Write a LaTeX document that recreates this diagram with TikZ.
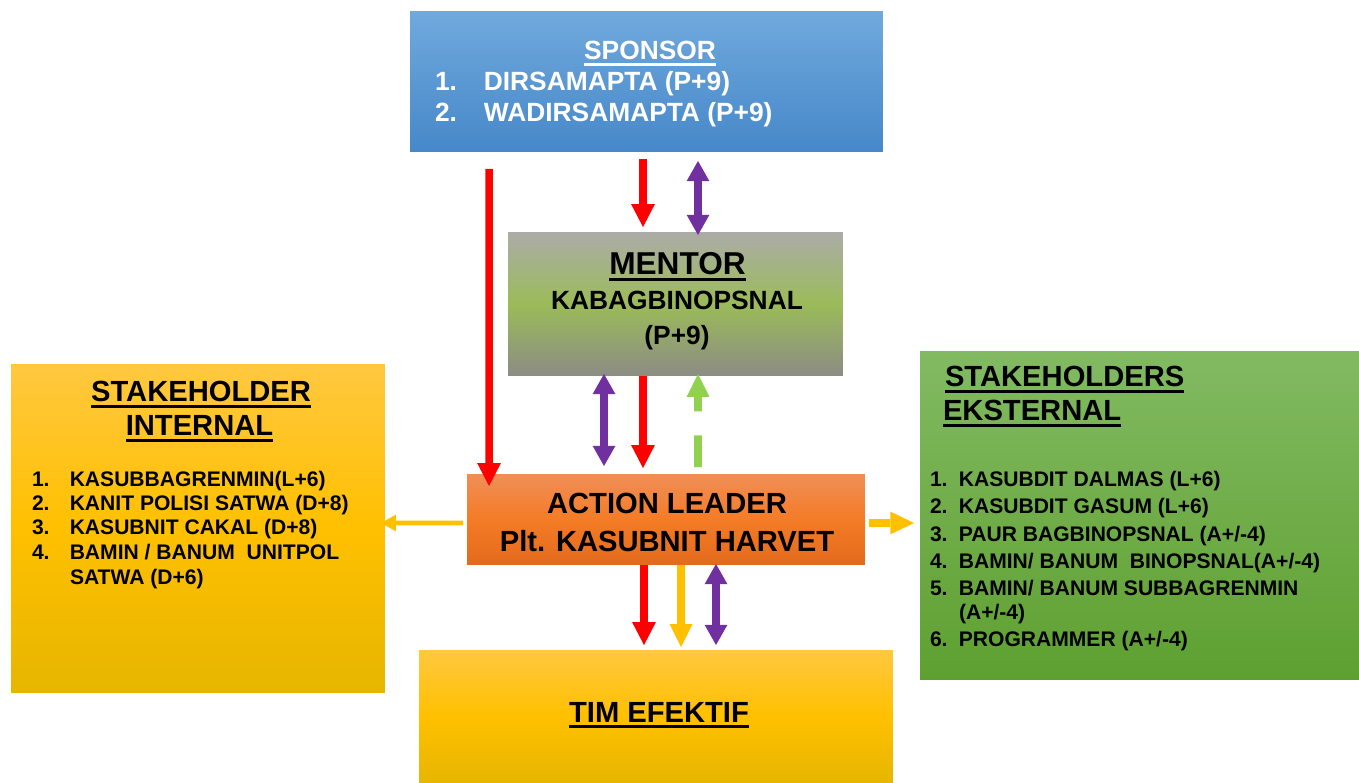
\documentclass[tikz,border=0pt]{standalone}
\usepackage{fontspec}
\setmainfont{Liberation Sans}
\usetikzlibrary{arrows.meta,calc}

\definecolor{spTop}{RGB}{112,169,221}
\definecolor{spBot}{RGB}{70,136,201}
\definecolor{mnTop}{RGB}{172,172,168}
\definecolor{mnMid}{RGB}{155,187,89}
\definecolor{mnBot}{RGB}{140,140,132}
\definecolor{ldTop}{RGB}{240,142,88}
\definecolor{ldMid}{RGB}{244,124,38}
\definecolor{ldBot}{RGB}{226,106,28}
\definecolor{yeTop}{RGB}{255,200,64}
\definecolor{yeMid}{RGB}{255,192,0}
\definecolor{yeBot}{RGB}{230,182,0}
\definecolor{grTop}{RGB}{130,186,98}
\definecolor{grBot}{RGB}{94,160,48}
\definecolor{arRed}{RGB}{255,0,0}
\definecolor{arPurple}{RGB}{112,48,160}
\definecolor{arYellow}{RGB}{255,192,0}
\definecolor{arGreen}{RGB}{146,208,80}

\newcommand{\undl}[1]{\setbox0=\hbox{#1}\rlap{\rule[-3.2pt]{\wd0}{1.5pt}}\box0}
\newcommand{\lnum}[2]{\makebox[#1][l]{#2}}

\begin{document}
\begin{tikzpicture}[
  x=0.02cm, y=-0.02cm,
  box/.style={inner sep=0pt, outer sep=0pt},
  txt/.style={inner sep=0pt, outer sep=0pt},
  bigttl/.style={txt, font=\bfseries\fontsize{16.6pt}{19pt}\selectfont},
  sptxt/.style={txt, text=white, font=\bfseries\fontsize{15pt}{17pt}\selectfont},
  mntxt/.style={txt, font=\bfseries\fontsize{15pt}{17pt}\selectfont},
  item/.style={txt, anchor=base west, font=\bfseries\fontsize{12pt}{14pt}\selectfont},
  redarr/.style={draw=arRed, line width=4.3pt, -{Triangle[length=13pt,width=13.5pt,line width=0pt]}},
  yelarr/.style={draw=arYellow, line width=4.3pt, -{Triangle[length=13pt,width=13pt,line width=0pt]}},
  purparr/.style={draw=arPurple, line width=4pt,
    {Triangle[length=11.5pt,width=13pt,line width=0pt]}-{Triangle[length=11.5pt,width=13pt,line width=0pt]}},
  grnarr/.style={draw=arGreen, line width=4.3pt, dash pattern=on 18pt off 13.6pt,
    -{Triangle[length=13pt,width=13pt,line width=0pt]}}
]
\useasboundingbox (0,0) rectangle (1359,783);

% boxes
\node[box, minimum width=9.46cm, minimum height=2.82cm, top color=spTop, bottom color=spBot] (sponsor) at (646.5,81.5) {};
\node[box, minimum width=6.70cm, minimum height=2.88cm, top color=mnTop, bottom color=mnBot, middle color=mnMid] (mentor) at (675.5,304) {};
\node[box, minimum width=7.96cm, minimum height=1.82cm, top color=ldTop, bottom color=ldBot, middle color=ldMid] (lead) at (666,519.5) {};
\node[box, minimum width=7.48cm, minimum height=6.58cm, top color=yeTop, bottom color=yeBot, middle color=yeMid] (stkint) at (198,528.5) {};
\node[box, minimum width=8.78cm, minimum height=6.58cm, top color=grTop, bottom color=grBot] (stkext) at (1139.5,515.5) {};
\node[box, minimum width=9.48cm, minimum height=2.66cm, top color=yeTop, bottom color=yeBot, middle color=yeMid] (tim) at (656,716.5) {};

% sponsor
\node[sptxt, anchor=base] (sptitle) at (650,60) {\undl{SPONSOR}};
\node[sptxt, anchor=base west] (sp1) at (435,91) {\lnum{27.8pt}{1.}DIRSAMAPTA (P+9)};
\node[sptxt, anchor=base west] (sp2) at (435,122) {\lnum{27.8pt}{2.}WADIRSAMAPTA (P+9)};

% mentor
\node[txt, anchor=base, font=\bfseries\fontsize{18pt}{20pt}\selectfont] (mntitle) at (677.5,275) {\undl{MENTOR}};
\node[mntxt, anchor=base] (mnname) at (677,310) {KABAGBINOPSNAL};
\node[mntxt, anchor=base] (mnrank) at (677,345) {(P+9)};

% action leader
\node[bigttl, anchor=base] (ldtitle) at (667,514) {ACTION LEADER};
\node[bigttl, anchor=base] (ldname) at (667,552) {Plt. KASUBNIT HARVET};

% stakeholder internal
\node[bigttl, anchor=base] (inttitleA) at (201,402) {\undl{STAKEHOLDER}};
\node[bigttl, anchor=base] (inttitleB) at (199.5,436) {\undl{INTERNAL}};
\node[item] (int1) at (32,487) {\lnum{21.5pt}{1.}KASUBBAGRENMIN(L+6)};
\node[item] (int2) at (32,511) {\lnum{21.5pt}{2.}KANIT POLISI SATWA (D+8)};
\node[item] (int3) at (32,535) {\lnum{21.5pt}{3.}KASUBNIT CAKAL (D+8)};
\node[item] (int4) at (32,560) {\lnum{21.5pt}{4.}BAMIN / BANUM\ \ UNITPOL};
\node[item] (int4b) at (70,584) {SATWA (D+6)};

% stakeholders eksternal
\node[bigttl, anchor=base west] (exttitleA) at (945,387) {\undl{STAKEHOLDERS}};
\node[bigttl, anchor=base west] (exttitleB) at (943,421) {\undl{EKSTERNAL}};
\node[item] (ext1) at (930,487) {\lnum{16.4pt}{1.}KASUBDIT DALMAS (L+6)};
\node[item] (ext2) at (930,514) {\lnum{16.4pt}{2.}KASUBDIT GASUM (L+6)};
\node[item] (ext3) at (930,541) {\lnum{16.4pt}{3.}PAUR BAGBINOPSNAL (A+/-4)};
\node[item] (ext4) at (930,568) {\lnum{16.4pt}{4.}BAMIN/ BANUM\ \ BINOPSNAL(A+/-4)};
\node[item] (ext5) at (930,595) {\lnum{16.4pt}{5.}BAMIN/ BANUM SUBBAGRENMIN};
\node[item] (ext5b) at (959,620) {(A+/-4)};
\node[item] (ext6) at (930,646) {\lnum{16.4pt}{6.}PROGRAMMER (A+/-4)};

% tim efektif
\node[bigttl, anchor=base] (timtitle) at (659,722) {\undl{TIM EFEKTIF}};

% sponsor -> mentor / leader
\draw[redarr] ($(sponsor.south west)+(79,17)$) -- ($(lead.north west)+(22,12)$);
\draw[redarr] ($(sponsor.south)+(-3.5,7)$) -- ($(mentor.north)+(-32.5,-5)$);
\draw[purparr] ($(sponsor.south)+(51.5,9)$) -- ($(mentor.north)+(22.5,3)$);

% mentor <-> leader
\draw[purparr] ($(mentor.south)+(-71.5,-2)$) -- ($(lead.north)+(-62,-8)$);
\draw[redarr] ($(mentor.south)+(-32.5,0)$) -- ($(lead.north)+(-23,-6)$);
\draw[grnarr] ($(lead.north)+(32,-7)$) -- ($(mentor.south)+(22.5,-2)$);

% leader -> stakeholders
\draw[draw=arYellow, line width=2.8pt, -{Triangle[length=8.5pt,width=9.5pt,line width=0pt]}]
  ($(lead.west)+(-4,3.5)$) -- ($(stkint.east)+(-4,-5.5)$);
\draw[draw=arYellow, line width=4.3pt, -{Triangle[length=13.5pt,width=13pt,line width=0pt]}]
  ($(lead.east)+(4,3.5)$) -- ($(stkext.west)+(-6,7.5)$);

% leader -> tim
\draw[redarr] ($(lead.south)+(-22,0)$) -- ($(tim.north)+(-12,-5)$);
\draw[yelarr] ($(lead.south)+(15,0)$) -- ($(tim.north)+(25,-3)$);
\draw[purparr] ($(lead.south)+(50,-1)$) -- ($(tim.north)+(60,-5)$);

\end{tikzpicture}
\end{document}
